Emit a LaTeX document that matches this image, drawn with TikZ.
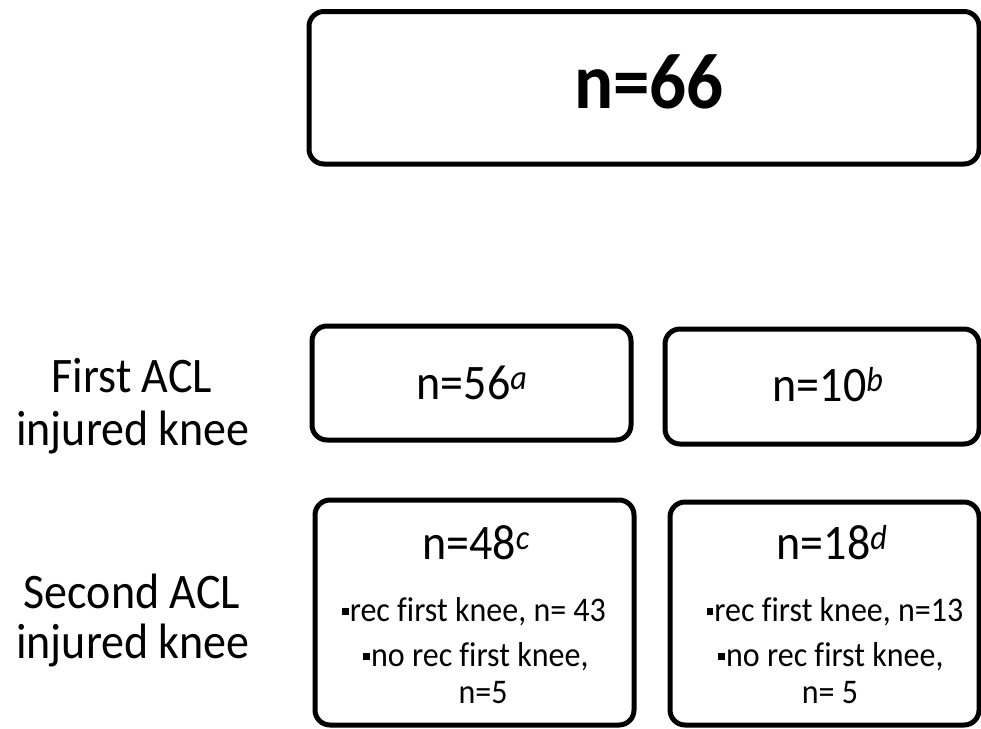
\documentclass[tikz,border=0pt]{standalone}
\usepackage{graphicx}
\usepackage{fontspec}
\setmainfont{Carlito}[Ligatures=CommonOff]
\newcommand{\sqb}{\rule[0.17em]{0.2em}{0.2em}\hspace{0.04em}}
\newcommand{\sups}[1]{\textsuperscript{\itshape #1}}
\newcommand{\vs}[1]{\scalebox{1}[1.08]{#1}}
\begin{document}
\begin{tikzpicture}[x=1pt,y=-1pt,
  box/.style={draw=black,line width=5pt,rounded corners=15pt,inner sep=0pt},
  lbl/.style={anchor=base,inner sep=0pt,font=\fontsize{46}{52}\selectfont},
  numtxt/.style={anchor=base,inner sep=0pt,font=\fontsize{46}{52}\selectfont},
  smltxt/.style={anchor=base,inner sep=0pt,font=\fontsize{32}{38}\selectfont},
  bigtxt/.style={anchor=base,inner sep=0pt,font=\fontsize{73}{80}\selectfont\bfseries}]
\useasboundingbox (0,0) rectangle (981,728);
% boxes
\node[box,minimum width=670pt,minimum height=152.5pt] (top) at (644,87.75) {};
\node[box,minimum width=319pt,minimum height=114pt] (m1) at (471.5,383) {};
\node[box,minimum width=314pt,minimum height=115pt] (m2) at (822,386.5) {};
\node[box,minimum width=319pt,minimum height=225pt] (b1) at (474.5,612.5) {};
\node[box,minimum width=309pt,minimum height=223pt] (b2) at (824.5,613.5) {};
% texts
\node[bigtxt] (t66) at (649,108) {\vs{n=66}};
\node[numtxt] (t56) at (472,399) {\vs{n=56\sups{a}}};
\node[numtxt] (t10) at (828,401) {\vs{n=10\sups{b}}};
\node[numtxt] (t48) at (476,559) {\vs{n=48\sups{c}}};
\node[numtxt] (t18) at (832,559) {\vs{n=18\sups{d}}};
\node[smltxt] (l1a) at (474,621) {\vs{\sqb rec first knee, n= 43}};
\node[smltxt] (l1b) at (476,666) {\vs{\sqb no rec first knee,}};
\node[smltxt] (l1c) at (483,703) {\vs{n=5}};
\node[smltxt] (r1a) at (835,621) {\vs{\sqb rec first knee, n=13}};
\node[smltxt] (r1b) at (831,666) {\vs{\sqb no rec first knee,}};
\node[smltxt] (r1c) at (830,703) {\vs{n= 5}};
% row labels
\node[lbl] (fa) at (132,392) {\vs{First ACL}};
\node[lbl] (fb) at (133,445) {\vs{injured knee}};
\node[lbl] (sa) at (132,608) {\vs{Second ACL}};
\node[lbl] (sb) at (133,658) {\vs{injured knee}};
\end{tikzpicture}
\end{document}
